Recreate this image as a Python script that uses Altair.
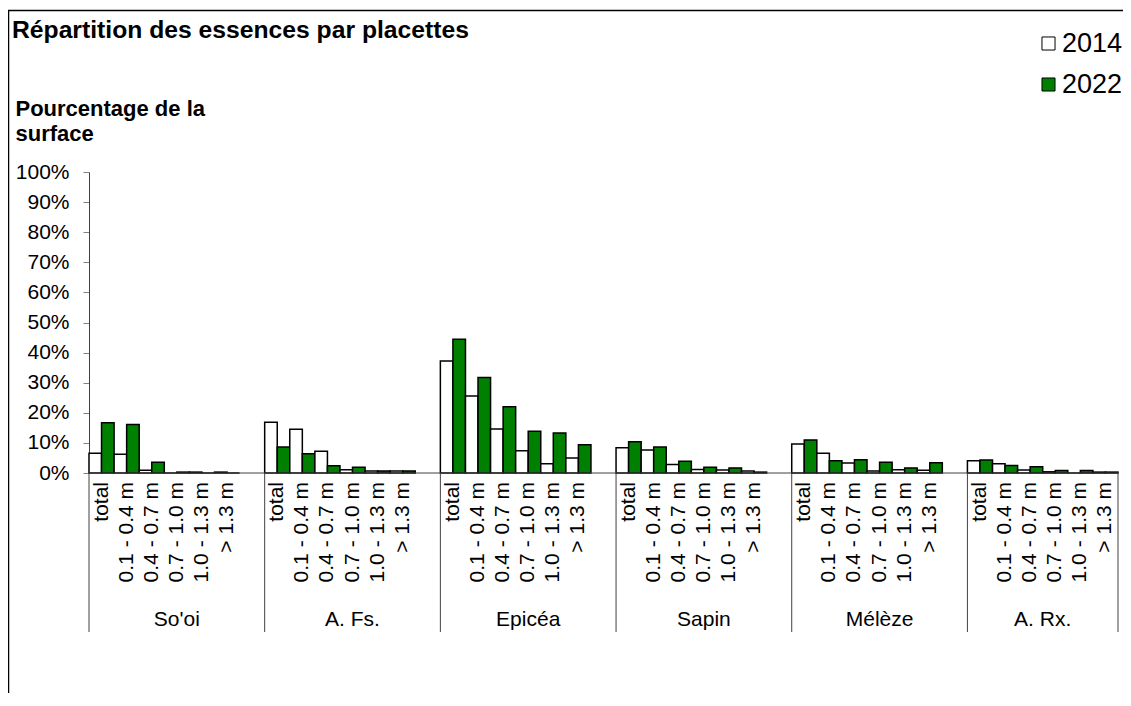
import altair as alt
import pandas as pd

# ---------------- data ----------------
groups = ["So'oi", "A. Fs.", "Epicéa", "Sapin", "Mélèze", "A. Rx."]
classes = ["total", "0.1 - 0.4 m", "0.4 - 0.7 m", "0.7 - 1.0 m", "1.0 - 1.3 m", "> 1.3 m"]
years = ["2014", "2022"]

v2014 = {
    "So'oi":  [6.6, 6.2, 0.9, 0.0, 0.3, 0.3],
    "A. Fs.": [16.9, 14.5, 7.2, 1.1, 0.7, 0.7],
    "Epicéa": [37.2, 25.6, 14.6, 7.4, 3.1, 5.0],
    "Sapin":  [8.4, 7.6, 2.8, 1.2, 1.0, 0.7],
    "Mélèze": [9.6, 6.6, 3.3, 0.7, 1.1, 0.9],
    "A. Rx.": [4.1, 3.1, 1.0, 0.4, 0.0, 0.3],
}
v2022 = {
    "So'oi":  [16.7, 16.1, 3.6, 0.3, 0.0, 0.0],
    "A. Fs.": [8.6, 6.4, 2.4, 1.9, 0.7, 0.7],
    "Epicéa": [44.4, 31.7, 22.0, 13.9, 13.3, 9.4],
    "Sapin":  [10.4, 8.6, 3.9, 1.9, 1.7, 0.3],
    "Mélèze": [11.0, 4.1, 4.4, 3.6, 1.7, 3.4],
    "A. Rx.": [4.3, 2.5, 2.1, 0.8, 0.8, 0.3],
}
y_ticks = [0, 10, 20, 30, 40, 50, 60, 70, 80, 90, 100]

title_text = "Répartition des essences par placettes"
ytitle = ["Pourcentage de la", "surface"]

# ---------------- tables ----------------
SLOTS_PER_GROUP = 7
n_slots = SLOTS_PER_GROUP * (len(groups) - 1) + len(classes)

bar_rows, lab_rows = [], []
for gi, g in enumerate(groups):
    for ci, c in enumerate(classes):
        s = gi * SLOTS_PER_GROUP + ci
        bar_rows.append({"year": "2014", "x0": s, "x1": s + 0.5, "v": v2014[g][ci]})
        bar_rows.append({"year": "2022", "x0": s + 0.5, "x1": s + 1, "v": v2022[g][ci]})
        lab_rows.append({"xc": s + 0.5, "lab": c})
bars_df = pd.DataFrame(bar_rows)
labs_df = pd.DataFrame(lab_rows)

grp_rows, sep_rows = [], []
for gi, g in enumerate(groups):
    start = gi * SLOTS_PER_GROUP
    end = min(start + SLOTS_PER_GROUP, n_slots)
    grp_rows.append({"xm": (start + end) / 2, "g": g})
    sep_rows.append({"xs": start})
sep_rows.append({"xs": n_slots})
grp_df = pd.DataFrame(grp_rows)
sep_df = pd.DataFrame(sep_rows)

W, H = 1029, 301
FONT = "Liberation Sans"
xscale = alt.Scale(domain=[0, n_slots], nice=False, zero=False)
yscale = alt.Scale(domain=[0, 100], nice=False)

bars = alt.Chart(bars_df).mark_bar(stroke="black", strokeWidth=1.5).encode(
    x=alt.X("x0:Q", scale=xscale, axis=None),
    x2="x1:Q",
    y=alt.Y("v:Q", scale=yscale,
            axis=alt.Axis(values=y_ticks, labelExpr="datum.value + '%'", grid=False,
                          labelOverlap=False,
                          labelFont=FONT, labelFontSize=21, labelColor="black",
                          labelPadding=14, tickSize=6, tickColor="#808080",
                          domainColor="#404040",
                          title=ytitle, titleAngle=0, titleAlign="left",
                          titleBaseline="alphabetic", titleX=-74, titleY=-57,
                          titleFont=FONT, titleFontSize=22, titleFontWeight="bold",
                          titleLineHeight=25, titleColor="black")),
    y2=alt.datum(0),
    fill=alt.Fill("year:N", scale=alt.Scale(domain=years, range=["#ffffff", "#008000"]),
                  legend=alt.Legend(title=None, orient="none", legendX=946, legendY=-142,
                                    symbolType="square", symbolSize=170,
                                    symbolStrokeColor="black", symbolStrokeWidth=1,
                                    labelFont=FONT, labelFontSize=27, labelColor="black",
                                    labelOffset=0, rowPadding=13, padding=0)),
)

baseline = alt.Chart(pd.DataFrame({"k": [0]})).mark_rule(color="#404040", strokeWidth=1).encode(
    y=alt.value(H), x=alt.value(0), x2=alt.value(W),
)

seps = alt.Chart(sep_df).mark_rule(color="#404040", strokeWidth=1).encode(
    x=alt.X("xs:Q", scale=xscale, axis=None), y=alt.value(H), y2=alt.value(H + 159),
)

ticklabels = alt.Chart(labs_df).mark_text(
    angle=270, align="right", baseline="middle", font=FONT, fontSize=21, color="black"
).encode(x=alt.X("xc:Q", scale=xscale, axis=None), y=alt.value(H + 9), text="lab:N")

grouplabels = alt.Chart(grp_df).mark_text(
    align="center", baseline="alphabetic", font=FONT, fontSize=21, color="black"
).encode(x=alt.X("xm:Q", scale=xscale, axis=None), y=alt.value(H + 153), text="g:N")

title = alt.Chart(pd.DataFrame({"t": [title_text]})).mark_text(
    align="left", baseline="alphabetic", font=FONT, fontSize=24.7, fontWeight="bold", color="black"
).encode(x=alt.value(-77), y=alt.value(-134), text="t:N")

frame_top = alt.Chart(pd.DataFrame({"k": [0]})).mark_rule(color="black", strokeWidth=1.5).encode(
    x=alt.value(-81), x2=alt.value(W + 40), y=alt.value(-161.5)
)
frame_left = alt.Chart(pd.DataFrame({"k": [0]})).mark_rule(color="black", strokeWidth=1.5).encode(
    x=alt.value(-80.5), y=alt.value(-162), y2=alt.value(H + 260)
)

chart = alt.layer(
    frame_top, frame_left, bars, baseline, seps, ticklabels, grouplabels, title
).properties(
    width=W, height=H,
    padding={"left": 81, "top": 164, "right": 5, "bottom": 220},
    autosize="none",
    background="white",
).configure_view(strokeWidth=0, stroke="transparent")

chart.save("out.html", embed_options={"renderer": "svg", "actions": False})
